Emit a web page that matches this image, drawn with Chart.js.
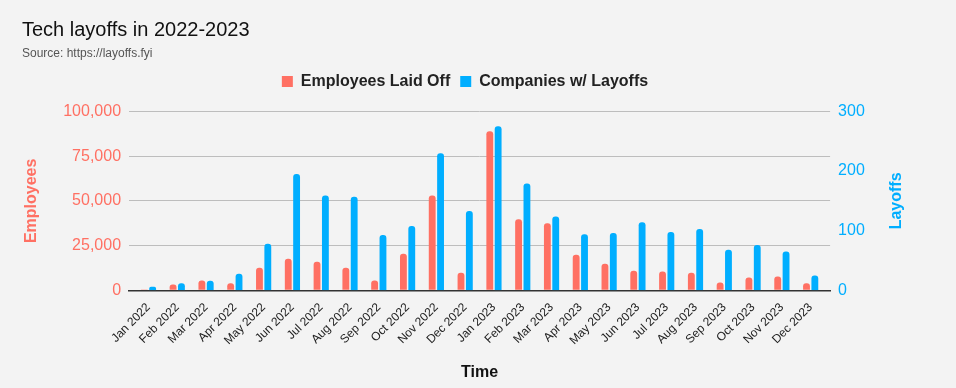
<!DOCTYPE html>
<html>
<head>
<meta charset="utf-8">
<script src="https://cdn.jsdelivr.net/npm/chart.js@4"></script>
<style>
  html, body { margin: 0; padding: 0; background: #f3f3f3; }
  #wrap { width: 956px; height: 388px; }
</style>
</head>
<body>
<div id="wrap"><canvas id="layoffschart"></canvas></div>
<script>
// Data block
const months = ['Jan 2022', 'Feb 2022', 'Mar 2022', 'Apr 2022', 'May 2022', 'Jun 2022',
                'Jul 2022', 'Aug 2022', 'Sep 2022', 'Oct 2022', 'Nov 2022', 'Dec 2022',
                'Jan 2023', 'Feb 2023', 'Mar 2023', 'Apr 2023', 'May 2023', 'Jun 2023',
                'Jul 2023', 'Aug 2023', 'Sep 2023', 'Oct 2023', 'Nov 2023', 'Dec 2023'];
const employeesLaidOff = [500, 3300, 5500, 3900, 12700, 17700,
                          16000, 12700, 5500, 20400, 53000, 9900,
                          88900, 39700, 37500, 19900, 14900, 11000,
                          10500, 9900, 4400, 7200, 7700, 3900];
const companiesWithLayoffs = [6, 12, 16, 28, 78, 195,
                              159, 157, 93, 108, 230, 133,
                              275, 179, 124, 94, 96, 114,
                              98, 103, 68, 76, 65, 25];
const employeeTicks = [0, 25000, 50000, 75000, 100000];
const layoffTicks = [0, 100, 200, 300];

const redColor = '#ff7063';
const blueColor = '#00aeff';
const fontFamily = 'Arial, "Liberation Sans"';

// Legend Margin plugin block
const legendMargin = {
    id: 'legendMargin',
    beforeInit(chart) {
        const fitValue = chart.legend.fit;
        chart.legend.fit = function fit() {
            fitValue.bind(chart.legend)();
            return this.height += 12;
        };
    }
};

// Right axis title, drawn bottom-to-top like the left one
const rightTitle = {
    id: 'rightTitle',
    afterDraw(chart) {
        const scale = chart.scales.y1;
        const ctx = chart.ctx;
        const x = scale.right - 2 - 9.6;
        const y = (scale.top + scale.bottom) / 2;
        ctx.save();
        ctx.translate(x, y);
        ctx.rotate(-Math.PI / 2);
        ctx.fillStyle = blueColor;
        ctx.font = 'bold 16px ' + fontFamily;
        ctx.textAlign = 'center';
        ctx.textBaseline = 'middle';
        ctx.fillText('Layoffs', 0, 0);
        ctx.restore();
    }
};

const layoffsData = {
    labels: months,
    datasets: [
        {
            label: 'Employees Laid Off',
            data: employeesLaidOff,
            backgroundColor: redColor,
            yAxisID: 'y',
            borderRadius: 3,
            categoryPercentage: 0.58,
            barPercentage: 0.82,
        },
        {
            label: 'Companies w/ Layoffs',
            data: companiesWithLayoffs,
            backgroundColor: blueColor,
            yAxisID: 'y1',
            borderRadius: 3,
            categoryPercentage: 0.58,
            barPercentage: 0.82,
        }
    ]
};

const layoffsConfig = {
    type: 'bar',
    data: layoffsData,
    options: {
        maintainAspectRatio: false,
        animation: false,
        layout: {
            padding: {left: 22, right: 48, top: 0, bottom: 6}
        },
        plugins: {
            title: {
                display: true,
                text: 'Tech layoffs in 2022-2023',
                align: 'start',
                color: '#111',
                font: {family: fontFamily, size: 20, weight: 'normal'},
                padding: {top: 18, bottom: 4}
            },
            subtitle: {
                display: true,
                text: 'Source: https://layoffs.fyi',
                align: 'start',
                color: '#555',
                font: {family: fontFamily, size: 12},
                padding: {top: 0, bottom: 3}
            },
            legend: {
                onClick: null,
                position: 'top',
                labels: {
                    boxWidth: 11,
                    boxHeight: 11,
                    color: '#222',
                    font: {family: fontFamily, size: 16, weight: 'bold'}
                }
            },
            tooltip: {enabled: false}
        },
        scales: {
            x: {
                // a little extra room at both ends of the category axis
                afterBuildTicks: function(axis) {
                    axis._startValue -= 0.175;
                    axis._valueRange += 0.35;
                },
                grid: {display: false},
                border: {color: '#333', width: 1.5},
                ticks: {
                    color: '#222',
                    minRotation: 45,
                    maxRotation: 45,
                    autoSkip: false,
                    padding: 2,
                    font: {family: fontFamily, size: 12}
                },
                title: {
                    display: true,
                    text: 'Time',
                    color: '#111',
                    font: {family: fontFamily, size: 16, weight: 'bold'},
                    padding: {top: 13, bottom: 0}
                }
            },
            y: {
                position: 'left',
                min: 0,
                max: 100000,
                afterBuildTicks: function(axis) {
                    axis.ticks = employeeTicks.map(v => ({value: v}));
                },
                grid: {color: '#bdbdbd', drawTicks: false},
                border: {display: false},
                ticks: {
                    color: redColor,
                    padding: 8,
                    font: {family: fontFamily, size: 16},
                    callback: function(value) {
                        return value.toLocaleString('en-US');
                    }
                },
                title: {
                    display: true,
                    text: 'Employees',
                    color: redColor,
                    font: {family: fontFamily, size: 16, weight: 'bold'},
                    padding: {top: 0, bottom: 14}
                }
            },
            y1: {
                position: 'right',
                min: 0,
                max: 300,
                afterBuildTicks: function(axis) {
                    axis.ticks = layoffTicks.map(v => ({value: v}));
                },
                grid: {display: false, drawTicks: false},
                border: {display: false},
                ticks: {
                    color: blueColor,
                    padding: 8,
                    font: {family: fontFamily, size: 16}
                },
                title: {
                    // space is kept here, the text itself is drawn by rightTitle
                    display: true,
                    text: 'Layoffs',
                    color: 'rgba(0,0,0,0)',
                    font: {family: fontFamily, size: 16, weight: 'bold'},
                    padding: {top: 2, bottom: 14}
                }
            }
        }
    },
    plugins: [legendMargin, rightTitle]
};

// render / init block
const layoffsChart = new Chart(
    document.getElementById('layoffschart'),
    layoffsConfig
);
</script>
</body>
</html>
